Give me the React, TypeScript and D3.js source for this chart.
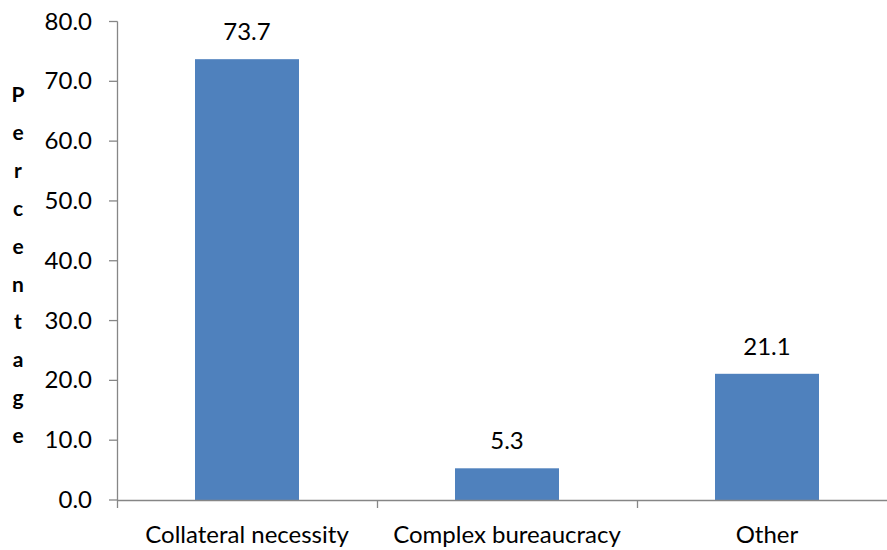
import React from "react";
import * as d3 from "d3";

const categories = ["Collateral necessity", "Complex bureaucracy", "Other"];
const values = [73.7, 5.3, 21.1];
const yTicks = [0, 10, 20, 30, 40, 50, 60, 70, 80];
const yTitle = "Percentage";

const W = 887;
const H = 550;
const FONT = "Lato, 'Open Sans', sans-serif";
const FS = 24;

export default function App() {
  const x = d3
    .scaleBand<string>()
    .domain(categories)
    .range([117, 897])
    .paddingInner(0.6)
    .paddingOuter(0.3);
  const band = d3.scaleBand<string>().domain(categories).range([117, 897]);
  const y = d3.scaleLinear().domain([0, 80]).range([500, 21.5]);
  const axisColor = "#868686";
  const letters = yTitle.split("");

  return (
    <svg
      width={W}
      height={H}
      style={{ position: "absolute", left: 0, top: 0, background: "#fff" }}
      fontFamily={FONT}
    >
      {categories.map((c, i) => (
        <rect
          key={c}
          x={x(c)}
          y={y(values[i])}
          width={x.bandwidth()}
          height={y(0) - y(values[i])}
          fill="#4F81BD"
        />
      ))}
      {categories.map((c, i) => (
        <text
          key={c + "v"}
          x={(x(c) as number) + x.bandwidth() / 2}
          y={y(values[i]) - 19}
          textAnchor="middle"
          fontSize={FS}
          fill="#000"
        >
          {values[i].toFixed(1)}
        </text>
      ))}
      <line x1={117.5} x2={117.5} y1={y(80)} y2={y(0)} stroke={axisColor} strokeWidth={1.3} />
      {yTicks.map((t) => (
        <g key={t}>
          <line x1={109} x2={117.5} y1={y(t)} y2={y(t)} stroke={axisColor} strokeWidth={1.3} />
          <text x={92} y={y(t) + 8} textAnchor="end" fontSize={FS} fill="#000">
            {t.toFixed(1)}
          </text>
        </g>
      ))}
      <line x1={117} x2={897} y1={500.5} y2={500.5} stroke={axisColor} strokeWidth={1.3} />
      {[...categories.map((c) => band(c) as number), 897].map((px, i) => (
        <line key={i} x1={px + 0.5} x2={px + 0.5} y1={500} y2={508} stroke={axisColor} strokeWidth={1.3} />
      ))}
      {categories.map((c) => (
        <text
          key={c + "l"}
          x={(band(c) as number) + band.bandwidth() / 2}
          y={543}
          textAnchor="middle"
          fontSize={FS}
          fill="#000"
        >
          {c}
        </text>
      ))}
      {letters.map((ch, i) => (
        <text
          key={i}
          x={18}
          y={102 + i * 37.9}
          textAnchor="middle"
          fontSize={21}
          fontWeight="bold"
          fill="#000"
        >
          {ch}
        </text>
      ))}
    </svg>
  );
}
